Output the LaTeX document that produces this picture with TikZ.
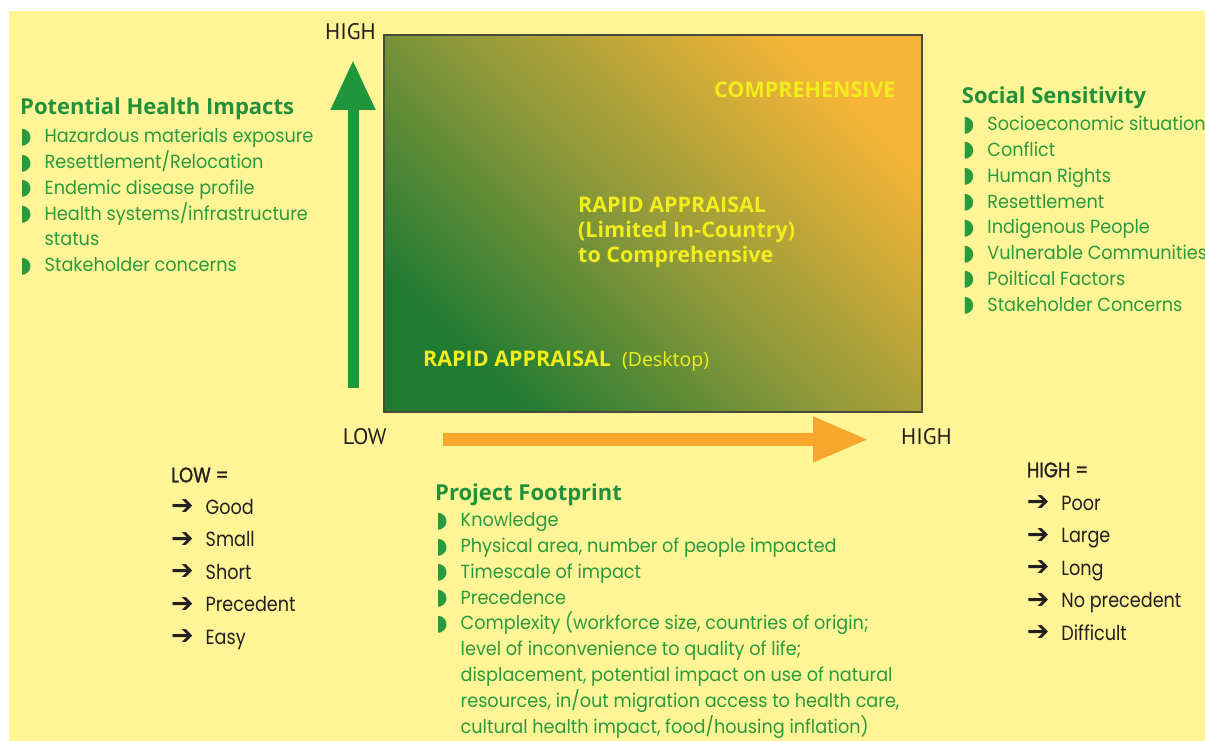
\documentclass[tikz,border=0pt]{standalone}
\usepackage{fontspec}
\usetikzlibrary{arrows.meta}
\setmainfont{Poppins}
\newfontfamily\bodyfont{Poppins}[FakeStretch=0.93]
\newfontfamily\blackfont{Poppins}[FakeStretch=0.86]
\newfontfamily\bodymedium{Poppins}[FakeStretch=0.86,FakeBold=1.2]
\newfontfamily\headfont{Open Sans}
\newfontfamily\axisfont{PT Sans}
\newfontfamily\symfont{DejaVu Sans}

\definecolor{bgyellow}{HTML}{FFF597}
\definecolor{leafgreen}{HTML}{2A9A3E}
\definecolor{headgreen}{HTML}{23913A}
\definecolor{arrowgreen}{HTML}{1E963C}
\definecolor{arroworange}{HTML}{F8A62C}
\definecolor{boxgreen}{HTML}{1F7A32}
\definecolor{boxolive}{HTML}{939A3A}
\definecolor{boxorange}{HTML}{F6B536}
\definecolor{boxedge}{HTML}{4A4A3A}
\definecolor{boxtext}{HTML}{F2EE1C}
\definecolor{inkblack}{HTML}{231F20}

% list markers
\newcommand\gbul{\makebox[24.5pt][l]{\symfont\fontsize{22}{22}\selectfont\raisebox{-0.5pt}{◗}}}
\newcommand\nobul{\hspace*{24.5pt}}
\newcommand\karrow{\makebox[34.5pt][l]{\symfont\fontsize{27}{27}\selectfont\raisebox{-0.5pt}{➔}}}

\tikzset{
  headtext/.style={anchor=base west, inner sep=0pt, text=headgreen,
    font=\headfont\bfseries\fontsize{22}{24}\selectfont},
  greenlist/.style={anchor=base west, inner sep=0pt, text=leafgreen,
    font=\bodyfont\fontsize{19}{25.8}\selectfont},
  blacklist/.style={anchor=base west, inner sep=0pt, text=inkblack,
    font=\blackfont\fontsize{20.5}{32.5}\selectfont},
  blackhead/.style={anchor=base west, inner sep=0pt, text=inkblack,
    font=\bodymedium\fontsize{21}{24}\selectfont},
  axislabel/.style={anchor=base west, inner sep=0pt, text=inkblack,
    font=\axisfont\fontsize{22.5}{24}\selectfont},
  boxlabel/.style={anchor=base west, inner sep=0pt, text=boxtext,
    font=\headfont\bfseries\fontsize{21.5}{25}\selectfont},
  fatarrow/.style={line width=#1, line cap=butt},
}

\begin{document}
\begin{tikzpicture}[x=1pt,y=-1pt]
  \useasboundingbox (0,0) rectangle (1205,741);
  \fill[white] (0,0) rectangle (1205,741);
  \fill[bgyellow] (9,11) rectangle (1205,741);

  % assessment field
  \node[draw=boxedge, line width=1.2pt, rectangle, inner sep=0pt,
        minimum width=538pt, minimum height=377pt,
        top color=boxorange, bottom color=boxgreen, middle color=boxolive,
        shading angle=-45] (field) at (653,223.5) {};

  \node[boxlabel] (comp) at (714,97.3) {COMPREHENSIVE};
  \node[boxlabel] (mid) at (578,212.3) {\begin{tabular}[t]{@{}l@{}}RAPID APPRAISAL\\(Limited In-Country)\\to Comprehensive\end{tabular}};
  \node[boxlabel] (desk) at (423,366.7) {RAPID APPRAISAL};
  \node[anchor=base west, inner sep=0pt, text=boxtext,
        font=\headfont\fontsize{19.5}{20}\selectfont] (desktop) at (622,366.7) {(Desktop)};

  % axes
  \coordinate (vbase) at (353,388);
  \coordinate (vtip) at (353,60);
  \draw[fatarrow=11pt, arrowgreen, -{Triangle[length=50pt,width=42pt]}] (vbase) -- (vtip);
  \coordinate (hbase) at (443,439.5);
  \coordinate (htip) at (869,439.5);
  \draw[fatarrow=13pt, arroworange, -{Triangle[length=56pt,width=42pt]}] (hbase) -- (htip);

  \node[axislabel] (yhigh) at (325,40) {HIGH};
  \node[axislabel] (xlow) at (342.7,444) {LOW};
  \node[axislabel] (xhigh) at (901,444.3) {HIGH};

  % potential health impacts
  \node[headtext] (healthhead) at (20,115) {Potential Health Impacts};
  \node[greenlist] (health) at (20,142.7) {\begin{tabular}[t]{@{}l@{}}
    \gbul Hazardous materials exposure\\
    \gbul Resettlement/Relocation\\
    \gbul Endemic disease profile\\
    \gbul Health systems/infrastructure\\
    \nobul status\\
    \gbul Stakeholder concerns
  \end{tabular}};

  % social sensitivity
  \node[headtext] (socialhead) at (961.7,103.3) {Social Sensitivity};
  \node[greenlist] (social) at (962.7,130.7) {\begin{tabular}[t]{@{}l@{}}
    \gbul Socioeconomic situation\\
    \gbul Conflict\\
    \gbul Human Rights\\
    \gbul Resettlement\\
    \gbul Indigenous People\\
    \gbul Vulnerable Communities\\
    \gbul Poiltical Factors\\
    \gbul Stakeholder Concerns
  \end{tabular}};

  % project footprint
  \node[headtext] (foothead) at (435,500) {Project Footprint};
  \node[greenlist] (foot) at (436,526.7) {\begin{tabular}[t]{@{}l@{}}
    \gbul Knowledge\\
    \gbul Physical area, number of people impacted\\
    \gbul Timescale of impact\\
    \gbul Precedence\\
    \gbul Complexity (workforce size, countries of origin;\\
    \nobul level of inconvenience to quality of life;\\
    \nobul displacement, potential impact on use of natural\\
    \nobul resources, in/out migration access to health care,\\
    \nobul cultural health impact, food/housing inflation)
  \end{tabular}};

  % low end of the scale
  \node[blackhead] (lowhead) at (171,482.3) {LOW =};
  \node[blacklist] (low) at (171,514) {\begin{tabular}[t]{@{}l@{}}
    \karrow Good\\
    \karrow Small\\
    \karrow Short\\
    \karrow Precedent\\
    \karrow Easy
  \end{tabular}};

  % high end of the scale
  \node[blackhead] (highhead) at (1026.7,477.3) {HIGH =};
  \node[blacklist] (high) at (1026.7,510) {\begin{tabular}[t]{@{}l@{}}
    \karrow Poor\\
    \karrow Large\\
    \karrow Long\\
    \karrow No precedent\\
    \karrow Difficult
  \end{tabular}};
\end{tikzpicture}
\end{document}
